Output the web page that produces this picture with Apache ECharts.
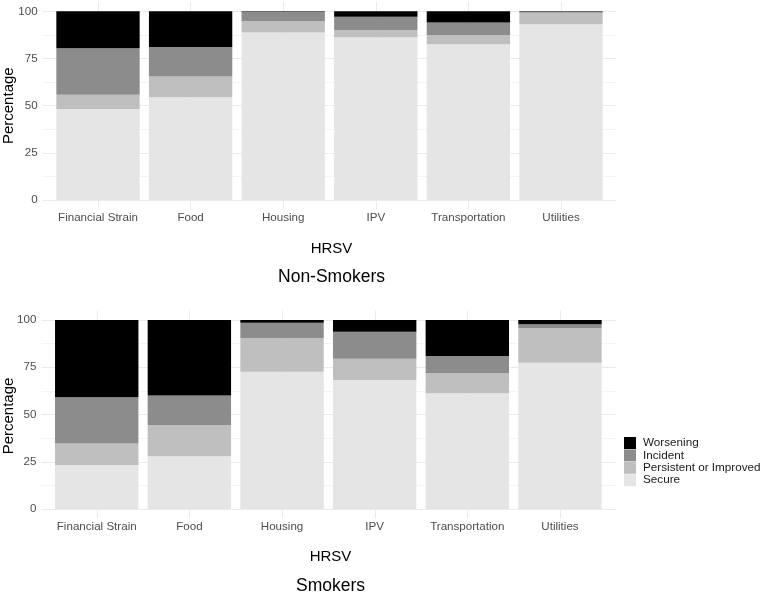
<!DOCTYPE html>
<html>
<head>
<meta charset="utf-8">
<script src="https://cdn.jsdelivr.net/npm/echarts@6/dist/echarts.min.js"></script>
<style>
html,body{margin:0;padding:0;background:#fff;}
#chart{width:763px;height:595px;}
</style>
</head>
<body>
<div id="chart"></div>
<script>
// ---- data ----
const categories = ['Financial Strain', 'Food', 'Housing', 'IPV', 'Transportation', 'Utilities'];
const seriesNames = ['Worsening', 'Incident', 'Persistent or Improved', 'Secure'];
const yTicks = [0, 25, 50, 75, 100];

// Non-Smokers (percent)
const nonSecure     = [48.2, 54.4, 88.7, 86.2, 82.5, 93.2];
const nonPersistent = [7.6, 11.1, 6.2, 3.9, 4.8, 6.0];
const nonIncident   = [24.6, 15.6, 4.8, 7.0, 6.7, 0.6];
const nonWorsening  = [19.6, 18.9, 0.3, 2.9, 6.0, 0.2];

// Smokers (percent)
const smkSecure     = [23.3, 27.9, 72.6, 68.3, 61.2, 77.4];
const smkPersistent = [11.3, 16.5, 17.7, 11.2, 10.6, 18.2];
const smkIncident   = [24.5, 15.7, 8.3, 14.3, 9.2, 2.1];
const smkWorsening  = [40.9, 39.9, 1.4, 6.2, 19.0, 2.3];

// ---- styling ----
const FONT = "'Liberation Sans', Arial, sans-serif";
const colors = {
  'Worsening': '#000000',
  'Incident': '#8c8c8c',
  'Persistent or Improved': '#bfbfbf',
  'Secure': '#e5e5e5'
};
const MAJOR = '#ebebeb', MINOR = '#f4f4f4', NONE = 'rgba(0,0,0,0)';
// decorative panel grid line colour cycles
const xLineColors = [NONE, NONE, NONE, NONE, NONE, NONE, MAJOR, NONE, NONE, NONE];
const yLineColors = [NONE, NONE, MAJOR, NONE, NONE, NONE, NONE, MINOR, NONE, NONE];

const panels = [
  { // Non-Smokers
    panel: { left: 42.4, right: 763 - 616.6, top: 1.9, bottom: 595 - 209.4 },
    main:  { left: 51.7, right: 763 - 607.3, top: 11.3, bottom: 595 - 200 },
    data: [nonSecure, nonPersistent, nonIncident, nonWorsening]
  },
  { // Smokers
    panel: { left: 41.4, right: 763 - 615.8, top: 310.55, bottom: 595 - 518.45 },
    main:  { left: 50.4, right: 763 - 606.3, top: 320, bottom: 595 - 509 },
    data: [smkSecure, smkPersistent, smkIncident, smkWorsening]
  }
];

const grid = [], xAxis = [], yAxis = [], series = [];
panels.forEach((p, k) => {
  // decorative full panel (ggplot panel incl. expansion) for grid lines
  const gDec = grid.length;
  grid.push(Object.assign({ containLabel: false }, p.panel));
  xAxis.push({
    type: 'value', gridIndex: gDec, min: 0, max: 62, interval: 1,
    axisLine: { show: false }, axisTick: { show: false }, axisLabel: { show: false },
    splitLine: { show: true, lineStyle: { color: xLineColors, width: 1 } }
  });
  yAxis.push({
    type: 'value', gridIndex: gDec, min: 0, max: 44, interval: 1,
    axisLine: { show: false }, axisTick: { show: false }, axisLabel: { show: false },
    splitLine: { show: true, lineStyle: { color: yLineColors, width: 1 } }
  });
  // main data grid
  const gMain = grid.length;
  grid.push(Object.assign({ containLabel: false }, p.main));
  xAxis.push({
    type: 'category', gridIndex: gMain, data: categories,
    axisLine: { show: false }, axisTick: { show: false }, splitLine: { show: false },
    axisLabel: { color: '#4d4d4d', fontSize: 11.6, fontFamily: FONT, margin: 12, interval: 0 }
  });
  yAxis.push({
    type: 'value', gridIndex: gMain, min: 0, max: 100, interval: 25,
    axisLine: { show: false }, axisTick: { show: false }, splitLine: { show: false },
    axisLabel: { color: '#4d4d4d', fontSize: 11.6, fontFamily: FONT, margin: 14,
      customValues: yTicks }
  });
  const order = ['Secure', 'Persistent or Improved', 'Incident', 'Worsening'];
  order.forEach((name, i) => {
    series.push({
      name: name, type: 'bar', stack: 'panel' + k,
      xAxisIndex: gMain, yAxisIndex: gMain,
      barWidth: '90%',
      itemStyle: { color: colors[name] },
      emphasis: { disabled: true },
      data: p.data[i]
    });
  });
});

const textEl = (txt, x, y, size, rot) => ({
  type: 'text', x: x, y: y, rotation: rot || 0,
  style: { text: txt, fill: '#000', font: size + 'px ' + FONT, align: 'center', verticalAlign: 'middle' }
});

const option = {
  animation: false,
  backgroundColor: '#ffffff',
  textStyle: { fontFamily: FONT },
  grid: grid, xAxis: xAxis, yAxis: yAxis, series: series,
  legend: {
    data: seriesNames,
    orient: 'vertical', left: 624, top: 437,
    icon: 'rect', itemWidth: 12, itemHeight: 12, itemGap: 0.4,
    padding: 0, selectedMode: false,
    textStyle: { fontSize: 11.7, color: '#1a1a1a', fontFamily: FONT, lineHeight: 12, padding: [0, 0, 0, 2] }
  },
  graphic: [
    textEl('Percentage', 8.8, 105.7, 15, Math.PI / 2),
    textEl('HRSV', 331.5, 249, 15),
    textEl('Non-Smokers', 331.5, 277.5, 17.5),
    textEl('Percentage', 8.8, 416, 15, Math.PI / 2),
    textEl('HRSV', 330.5, 556.5, 15),
    textEl('Smokers', 330.5, 586, 17.5)
  ]
};

const chart = echarts.init(document.getElementById('chart'), null, { renderer: 'canvas' });
chart.setOption(option);
</script>
</body>
</html>
